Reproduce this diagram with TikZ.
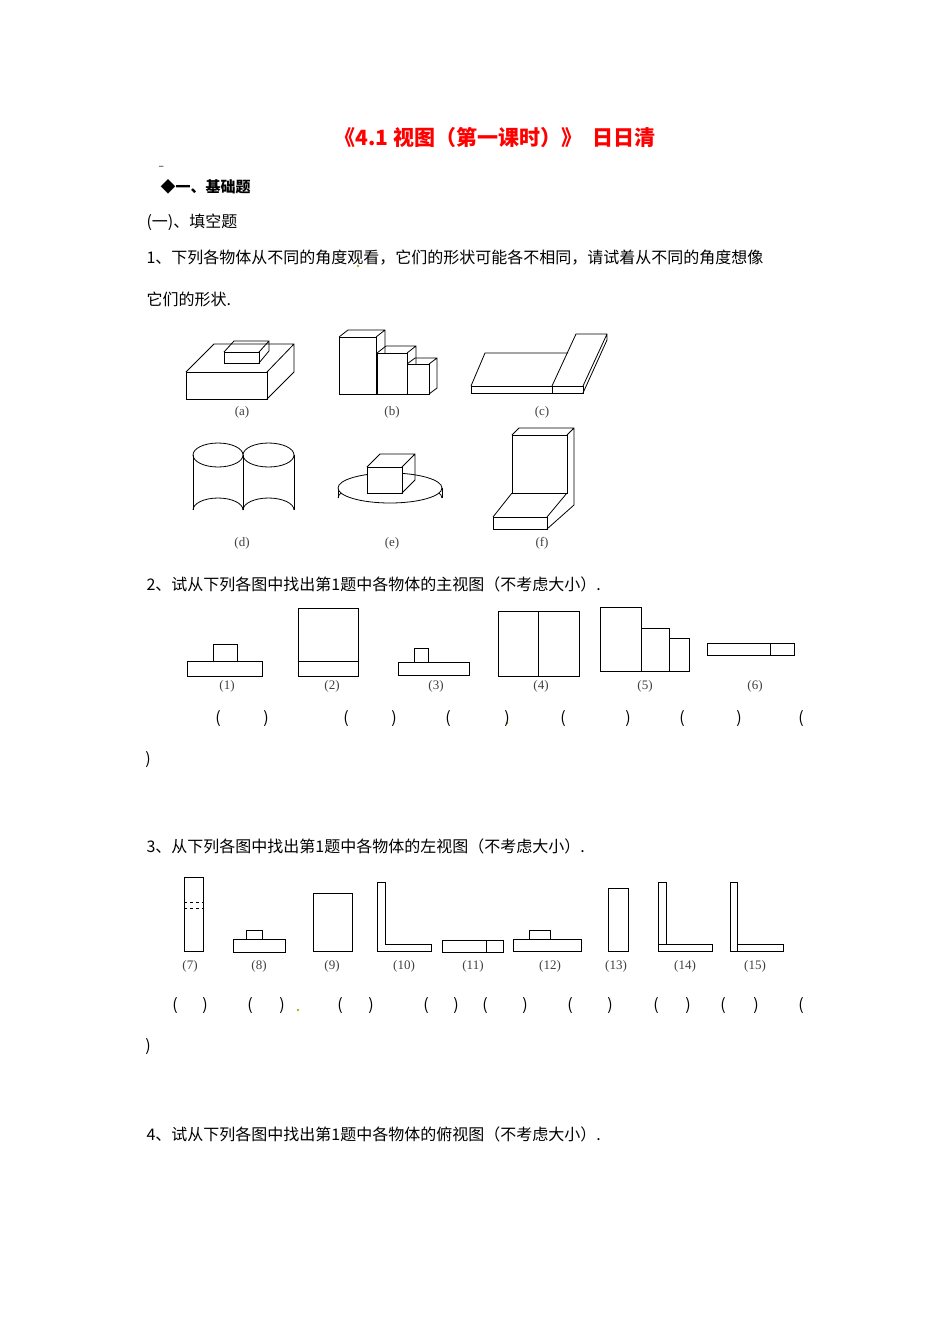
\documentclass[tikz,border=0pt]{standalone}
\usepackage{fontspec}
\setmainfont{Liberation Serif}
\newfontfamily\cjk{Noto Sans CJK SC}
\begin{document}
\begin{tikzpicture}[x=1pt,y=-1pt,line width=1pt,
  txt/.style={anchor=west,inner sep=0pt,font=\cjk\fontsize{16}{18}\selectfont},
  lab/.style={inner sep=0pt,font=\fontsize{13}{14}\selectfont\color{black!75}},
  par/.style={inner sep=0pt,font=\cjk\fontsize{16}{18}\selectfont}]
\useasboundingbox[fill=white] (0,0) rectangle (950,1344);
\node[inner sep=0pt,text=red,font=\cjk\bfseries\fontsize{21}{24}\selectfont] (title) at (495,137) {《4.1 视图（第一课时）》\ \ 日日清};
\node[txt] (dash) at (158,168) {\fontsize{10}{10}\selectfont –};
\node[txt,font=\cjk\bfseries\fontsize{15}{18}\selectfont] (s1) at (160,187) {◆一、基础题};
\node[txt] (s2) at (146,222) {(一)、填空题};
\node[txt] (q1) at (146,258) {1、下列各物体从不同的角度观看，它们的形状可能各不相同，请试着从不同的角度想像};
\node[txt] (q1b) at (146,299) {它们的形状.};
\node[txt] (q2) at (146,584) {2、试从下列各图中找出第1题中各物体的主视图（不考虑大小）.};
\node[txt] (q3) at (146,846) {3、从下列各图中找出第1题中各物体的左视图（不考虑大小）.};
\node[txt] (q4) at (146,1134) {4、试从下列各图中找出第1题中各物体的俯视图（不考虑大小）.};
\fill[olive!70] (358,266) circle (1.3) (507,723) circle (1.3) (298,1010) circle (1.3);
% ---- Q1 figures
\begin{scope}[line width=0.8pt]
% (a)
\draw (186,372) rectangle (267,399);
\draw (186,372) -- (214,344) -- (294,344) -- (294,372) -- (267,399) (267,372) -- (294,344);
\draw[fill=white] (224,352) rectangle (259,363);
\draw (224,352) -- (234,341) -- (269,341) -- (269,351) -- (259,363) (259,352) -- (269,341);
% (b)
\foreach \a/\b/\c/\d/\ox/\oy in {339/337/376/394/9/-7, 377/353/407/394/9/-7, 407/364/429/394/8/-6}{
  \draw[fill=white] (\a,\b) rectangle (\c,\d);
  \draw (\a,\b) -- ++(\ox,\oy) -- ([shift={(\ox,\oy)}]\c,\b) -- ([shift={(\ox,\oy)}]\c,\d) -- (\c,\d) (\c,\b) -- ++(\ox,\oy);
}
% (c)
\draw (471,386) rectangle (583,393) (552,386) -- (552,393);
\draw (471,386) -- (485,353) -- (568,353);
\draw (552,386) -- (576,334) -- (607,334) -- (607,340) -- (583,393) (583,386) -- (607,334);
% (d)
\draw (193,455) -- (193,510) (243,455) -- (243,510) (294,455) -- (294,510);
\draw (218,455) ellipse (25 and 12) (268.5,455) ellipse (25.5 and 12);
\draw (193,510) arc[start angle=180,end angle=360,x radius=25,y radius=12];
\draw (243,510) arc[start angle=180,end angle=360,x radius=25.5,y radius=12];
% (e)
\draw (338,488) -- (338,498) (442,488) -- (442,498);
\draw (338,498) arc[start angle=180,end angle=360,x radius=52,y radius=15];
\draw[fill=white] (390,488) ellipse (52 and 15);
\draw[fill=white] (367,467) rectangle (402,493);
\draw (367,467) -- (380,454) -- (415,454) -- (415,480) -- (402,493) (402,467) -- (415,454);
% (f)
\draw (512,493) -- (512,435) -- (567,435) -- (567,493) -- cycle;
\draw (512,435) -- (519,428) -- (574,428) -- (574,505) -- (547,529) (567,435) -- (574,428);
\draw (493,517) rectangle (547,529);
\draw (493,517) -- (512,493) (547,517) -- (567,493);
\end{scope}
\foreach \n/\x/\y in {a/242/412,b/392/412,c/542/412,d/242/543,e/392/543,f/542/543}
  \node[lab] (l\n) at (\x,\y) {(\n)};
% ---- Q2 figures
\draw (187,661) rectangle (262,676) (213,644) rectangle (237,661);
\draw (298,608) rectangle (358,676) (298,661) -- (358,661);
\draw (398,662) rectangle (469,675) (414,648) rectangle (428,662);
\draw (498,611) rectangle (579,676) (538,611) -- (538,676);
\draw (600,607) rectangle (641,671) (641,628) rectangle (669,671) (669,638) rectangle (689,671);
\draw (707,643) rectangle (794,655) (770,643) -- (770,655);
\foreach \n/\x in {1/227,2/332,3/436,4/541,5/645,6/755}
  \node[lab] (m\n) at (\x,686) {(\n)};
\foreach \x/\c in {218/(,266/),346/(,394/),448/(,507/),563/(,628/),682/(,739/),801/(}
  \node[par] at (\x,719) {\c};
\node[par] at (148,760) {)};
% ---- Q3 figures
\draw (184,877) rectangle (203,951);
\draw[dashed] (184,902) -- (203,902) (184,908) -- (203,908);
\draw (233,939) rectangle (285,952) (246,930) rectangle (262,939);
\draw (313,893) rectangle (352,951);
\draw (377,882) -- (385,882) -- (385,944) -- (431,944) -- (431,951) -- (377,951) -- cycle;
\draw (442,940) rectangle (503,952) (486,940) -- (486,952);
\draw (513,939) rectangle (581,951) (529,930) rectangle (550,939);
\draw (608,888) rectangle (628,951);
\draw (658,882) rectangle (666,944) (658,944) rectangle (712,951);
\draw (730,882) rectangle (737,951) (737,944) rectangle (783,951);
\foreach \n/\x in {7/190,8/259,9/332,10/404,11/473,12/550,13/616,14/685,15/755}
  \node[lab] (r\n) at (\x,966) {(\n)};
\foreach \x/\c in {175/(,205/),250/(,282/),340/(,371/),426/(,456/),485/(,525/),570/(,610/),656/(,688/),723/(,756/),801/(}
  \node[par] at (\x,1006) {\c};
\node[par] at (148,1047) {)};
\end{tikzpicture}
\end{document}
